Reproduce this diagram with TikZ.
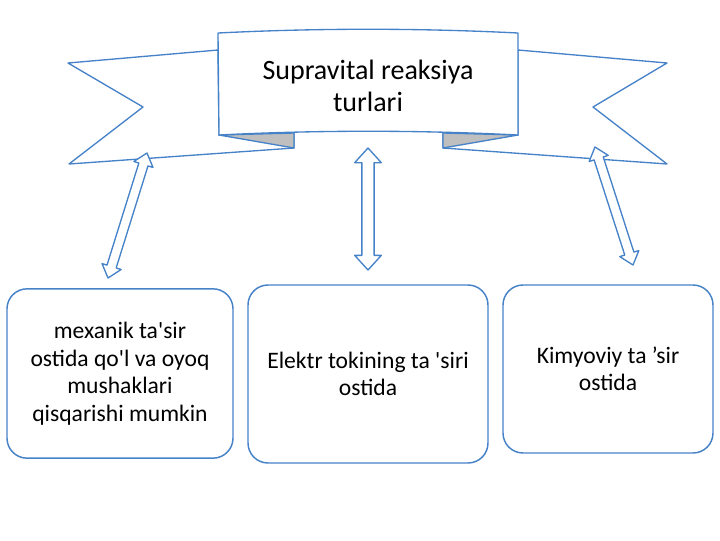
\documentclass[tikz,border=0pt]{standalone}
\usepackage{fontspec}
\setmainfont{Carlito}
\usetikzlibrary{calc}
\definecolor{lineblue}{RGB}{70,130,200}
\definecolor{foldgray}{RGB}{191,191,191}
% #1 tip A, #2 tip B, #3 head length, #4 head half width, #5 shaft half width
\newcommand\dblblockarrow[5]{%
  \draw[barrow] (#1)
    -- ($(#1)!#3!(#2)!#4!90:(#2)$)
    -- ($(#1)!#3!(#2)!#5!90:(#2)$)
    -- ($(#2)!#3!(#1)!#5!-90:(#1)$)
    -- ($(#2)!#3!(#1)!#4!-90:(#1)$)
    -- (#2)
    -- ($(#2)!#3!(#1)!#4!90:(#1)$)
    -- ($(#2)!#3!(#1)!#5!90:(#1)$)
    -- ($(#1)!#3!(#2)!#5!-90:(#2)$)
    -- ($(#1)!#3!(#2)!#4!-90:(#2)$)
    -- cycle;}
\newcommand\sq{\textquotesingle}
\begin{document}
\begin{tikzpicture}[x=0.75pt,y=-0.75pt,line join=round,
  ribbon/.style={draw=lineblue,line width=1pt,fill=white},
  fold/.style={draw=lineblue,line width=1pt,fill=foldgray},
  barrow/.style={draw=lineblue,line width=1pt,fill=white},
  box/.style={draw=lineblue,line width=1.1pt,fill=white,rounded corners=15pt,
    align=center,inner sep=0pt,font=\fontsize{17.7}{20.6}\selectfont},
  titletext/.style={align=center,font=\fontsize{21}{23.5}\selectfont}]
\useasboundingbox (0,0) rectangle (720,540);

% ribbon wings
\draw[ribbon] (218,50) -- (68,63) -- (143,107) -- (69,164) -- (294,148) -- (294,133) -- (219,135) -- cycle;
\draw[ribbon] (518,50) -- (667,63) -- (593,107) -- (667,164) -- (443,148) -- (443,133) -- (518,135) -- cycle;
% folds
\draw[fold] (219,135) -- (294,148) -- (294,133) -- cycle;
\draw[fold] (518,135) -- (443,148) -- (443,133) -- cycle;
% centre panel
\draw[ribbon] (218,33) .. controls (318,28) and (418,28) .. (518,33)
  -- (518,135) .. controls (418,130) and (318,130) .. (219,135) -- cycle;
\node[titletext] (title) at (368,86) {Supravital reaksiya\\turlari};

% boxes
\node[box,minimum width=169.5pt,minimum height=127pt] (b1) at (120,373.5)
  {mexanik ta\sq sir\\ostida qo\sq l va oyoq\\mushaklari\\qisqarishi mumkin};
\node[box,minimum width=180pt,minimum height=133.5pt] (b2) at (368,374)
  {Elektr tokining ta \sq siri\\ostida};
\node[box,minimum width=157.5pt,minimum height=126pt] (b3) at (608,369)
  {Kimyoviy ta ’sir\\ostida};

% double block arrows
\coordinate (l1) at (147,153);
\coordinate (l2) at (108,278);
\coordinate (m1) at (368,148);
\coordinate (m2) at (368,270);
\coordinate (r1) at (595,147);
\coordinate (r2) at (633,265);
\dblblockarrow{l1}{l2}{9pt}{7.5pt}{3.6pt}
\dblblockarrow{m1}{m2}{11pt}{10pt}{4.6pt}
\dblblockarrow{r1}{r2}{9pt}{7.5pt}{3.6pt}
\end{tikzpicture}
\end{document}
